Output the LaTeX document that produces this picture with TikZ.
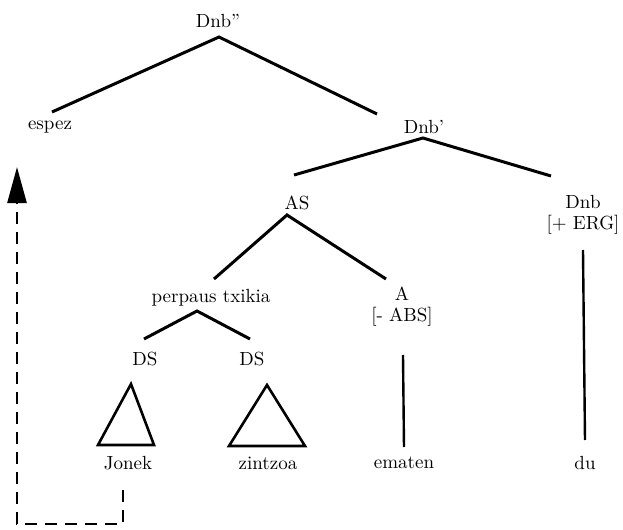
\documentclass[tikz,border=0pt]{standalone}
\usepackage{tikz}
\usetikzlibrary{arrows.meta, calc}

\begin{document}
\begin{tikzpicture}[x=0.5pt, y=-0.5pt,
  every node/.style={font=\fontsize{9.5}{10.5}\selectfont, inner sep=0pt},
  branch/.style={line width=1.5pt},
  roof/.style={line width=1.3pt, line join=miter},
  movearrow/.style={line width=1.3pt, dash pattern=on 6pt off 4pt,
    -{Triangle[length=18pt, width=9.5pt]}}]
  \useasboundingbox (0,0) rectangle (623,530);
  \node (dnbpp)   at (218,21)  {Dnb''};
  \node (espez)   at (50,127)  {espez};
  \node (dnbp)    at (424,127) {Dnb'};
  \node (as)      at (297,203) {AS};
  \node[align=center] (dnb) at (583,215) {Dnb\\{[+ ERG]}};
  \node (pt)      at (211,298) {perpaus txikia};
  \node[align=center] (a)   at (402,307) {A\\{[- ABS]}};
  \node (ds1)     at (145,359) {DS};
  \node (ds2)     at (252,359) {DS};
  \node (jonek)   at (128,463) {Jonek};
  \node (zintzoa) at (268,463) {zintzoa};
  \node (ematen)  at (404,463) {ematen};
  \node (du)      at (585,463) {du};
  \draw[branch] ($(espez)+(2,-15)$) -- ($(dnbpp)+(1,16)$) -- ($(dnbp)+(-47,-13)$);
  \draw[branch] ($(as)+(-3,-28)$) -- ($(dnbp)+(-1,11)$) -- ($(dnb)+(-32,-39)$);
  \draw[branch] ($(pt)+(3,-19)$) -- ($(as)+(-10,12)$) -- ($(a)+(-16,-28)$);
  \draw[branch] ($(ds1)+(-1,-20)$) -- ($(pt)+(-14,13)$) -- ($(ds2)+(-2,-20)$);
  \draw[line width=1.2pt] ($(a)+(1,48)$) -- ($(ematen)+(0,-16)$);
  \draw[line width=1.2pt] ($(dnb)+(0,35)$) -- ($(du)+(0,-23)$);
  \draw[roof] ($(ds1)+(-14,25)$) -- ($(jonek)+(-30,-18)$) -- ($(jonek)+(26,-18)$) -- cycle;
  \draw[roof] ($(ds2)+(15,26)$) -- ($(zintzoa)+(-39,-17)$) -- ($(zintzoa)+(37,-17)$) -- cycle;
  \draw[movearrow] ($(jonek)+(-5,27)$) -- ($(jonek)+(-5,61)$) -| ($(espez)+(-33,40)$);
\end{tikzpicture}
\end{document}
